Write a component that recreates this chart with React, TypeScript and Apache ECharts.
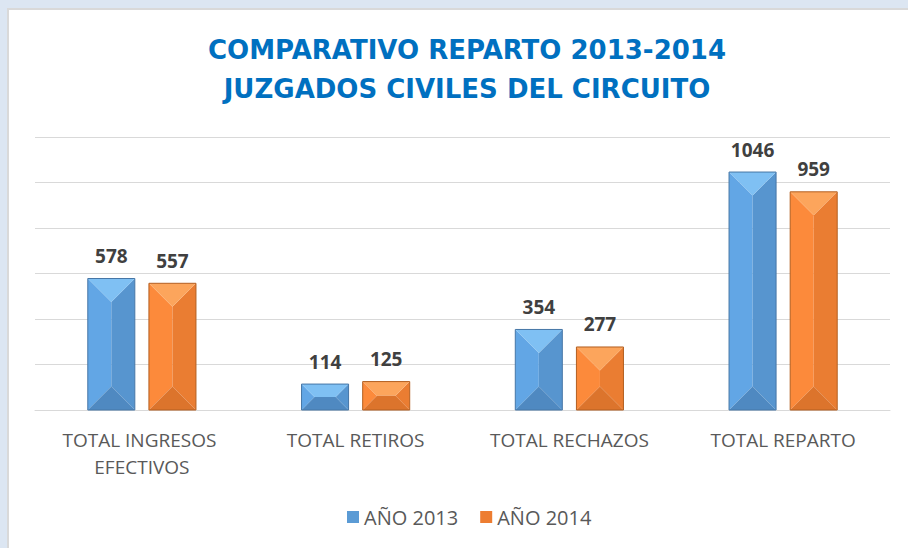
import React, { useEffect, useRef } from "react";
import * as echarts from "echarts";

const categories = ["TOTAL INGRESOS EFECTIVOS", "TOTAL RETIROS", "TOTAL RECHAZOS", "TOTAL REPARTO"];
const seriesNames = ["AÑO 2013", "AÑO 2014"];
const values2013 = [578, 114, 354, 1046];
const values2014 = [557, 125, 277, 959];
const titleLines = ["COMPARATIVO REPARTO 2013-2014", "JUZGADOS CIVILES DEL CIRCUITO"];

const palettes = [
  { base: "#5b9bd5", top: "#7fc0f3", left: "#62a6e5", mid: "#5d9fdc", right: "#5795cf", bottom: "#4f89c1", border: "#4676a6" },
  { base: "#ed7d31", top: "#fca55c", left: "#fc8a3b", mid: "#f6863a", right: "#ea7d32", bottom: "#dc742c", border: "#b35f20" },
];

function makeRenderItem(sIdx: number) {
  return (params: any, api: any) => {
    const ci = api.value(0);
    const v = api.value(1);
    const base = api.coord([ci, 0]);
    const tp = api.coord([ci, v]);
    const band = api.size([1, 0])[0];
    const w = band * 0.22;
    const gap = band * 0.066;
    const cx = base[0] + (sIdx === 0 ? -1 : 1) * (w + gap) / 2;
    const x0 = cx - w / 2;
    const x1 = cx + w / 2;
    const y0 = tp[1];
    const y1 = base[1];
    const d = Math.min(w / 2, (y1 - y0) / 2);
    const p = palettes[sIdx];
    const poly = (pts: number[][], fill: string) => ({
      type: "polygon",
      shape: { points: pts },
      style: { fill, stroke: null },
    });
    return {
      type: "group",
      children: [
        poly([[x0 + d, y0 + d], [x1 - d, y0 + d], [x1 - d, y1 - d], [x0 + d, y1 - d]], p.mid),
        poly([[x0, y0], [x0 + d, y0 + d], [x0 + d, y1 - d], [x0, y1]], p.left),
        poly([[x1, y0], [x1 - d, y0 + d], [x1 - d, y1 - d], [x1, y1]], p.right),
        poly([[x0, y0], [x1, y0], [x1 - d, y0 + d], [x0 + d, y0 + d]], p.top),
        poly([[x0, y1], [x1, y1], [x1 - d, y1 - d], [x0 + d, y1 - d]], p.bottom),
        {
          type: "rect",
          shape: { x: x0, y: y0, width: w, height: y1 - y0 },
          style: { fill: null, stroke: p.border, lineWidth: 1 },
        },
        {
          type: "text",
          x: cx,
          y: y0 - 13,
          style: {
            text: String(v),
            align: "center",
            verticalAlign: "bottom",
            fill: "#404040",
            font: "bold 19px 'Open Sans', sans-serif",
          },
        },
      ],
    };
  };
}

export default function App() {
  const ref = useRef<HTMLDivElement>(null);
  useEffect(() => {
    if (!ref.current) return;
    const chart = echarts.init(ref.current, null, { renderer: "svg" });
    const seriesData = [values2013, values2014];
    chart.setOption({
      animation: false,
      backgroundColor: "#ffffff",
      graphic: [
        { type: "rect", shape: { x: 0, y: 0, width: 908, height: 8 }, style: { fill: "#dce6f2" }, silent: true },
        { type: "rect", shape: { x: 0, y: 0, width: 7, height: 548 }, style: { fill: "#dce6f2" }, silent: true },
        { type: "rect", shape: { x: 7, y: 8, width: 901, height: 2 }, style: { fill: "#d9d9d9" }, silent: true },
        { type: "rect", shape: { x: 7, y: 8, width: 2, height: 540 }, style: { fill: "#d9d9d9" }, silent: true },
      ],
      title: {
        text: titleLines.join("\n"),
        left: 462,
        top: 25,
        textAlign: "center",
        textStyle: {
          color: "#0070c0",
          fontSize: 26,
          fontWeight: "bold",
          fontFamily: "'DejaVu Sans', sans-serif",
          lineHeight: 39,
        },
      },
      legend: {
        bottom: 16,
        left: 342,
        itemWidth: 12,
        itemHeight: 12,
        itemGap: 22,
        icon: "rect",
        textStyle: { color: "#595959", fontSize: 20, fontFamily: "'Open Sans', sans-serif" },
        data: seriesNames.map((n, i) => ({ name: n, itemStyle: { color: palettes[i].base } })),
      },
      grid: { left: 35, right: 18, top: 137, bottom: 138, containLabel: false },
      xAxis: {
        type: "category",
        data: categories,
        axisLine: { show: true, lineStyle: { color: "#d9d9d9", width: 1 } },
        axisTick: { show: false },
        axisLabel: {
          interval: 0,
          color: "#595959",
          fontSize: 19,
          fontFamily: "'Open Sans', sans-serif",
          margin: 16,
          lineHeight: 27,
          width: 200,
          overflow: "break",
        },
      },
      yAxis: {
        type: "value",
        min: 0,
        max: 1200,
        interval: 200,
        axisLabel: { show: false },
        axisLine: { show: false },
        axisTick: { show: false },
        splitLine: { lineStyle: { color: "#d9d9d9", width: 1 } },
      },
      series: seriesNames.map((name, s) => ({
        type: "custom",
        name,
        itemStyle: { color: palettes[s].base },
        encode: { x: 0, y: 1 },
        renderItem: makeRenderItem(s),
        data: seriesData[s].map((v, i) => [i, v]),
      })),
    });
    return () => chart.dispose();
  }, []);
  return <div ref={ref} style={{ position: "fixed", left: 0, top: 0, width: 908, height: 548 }} />;
}
